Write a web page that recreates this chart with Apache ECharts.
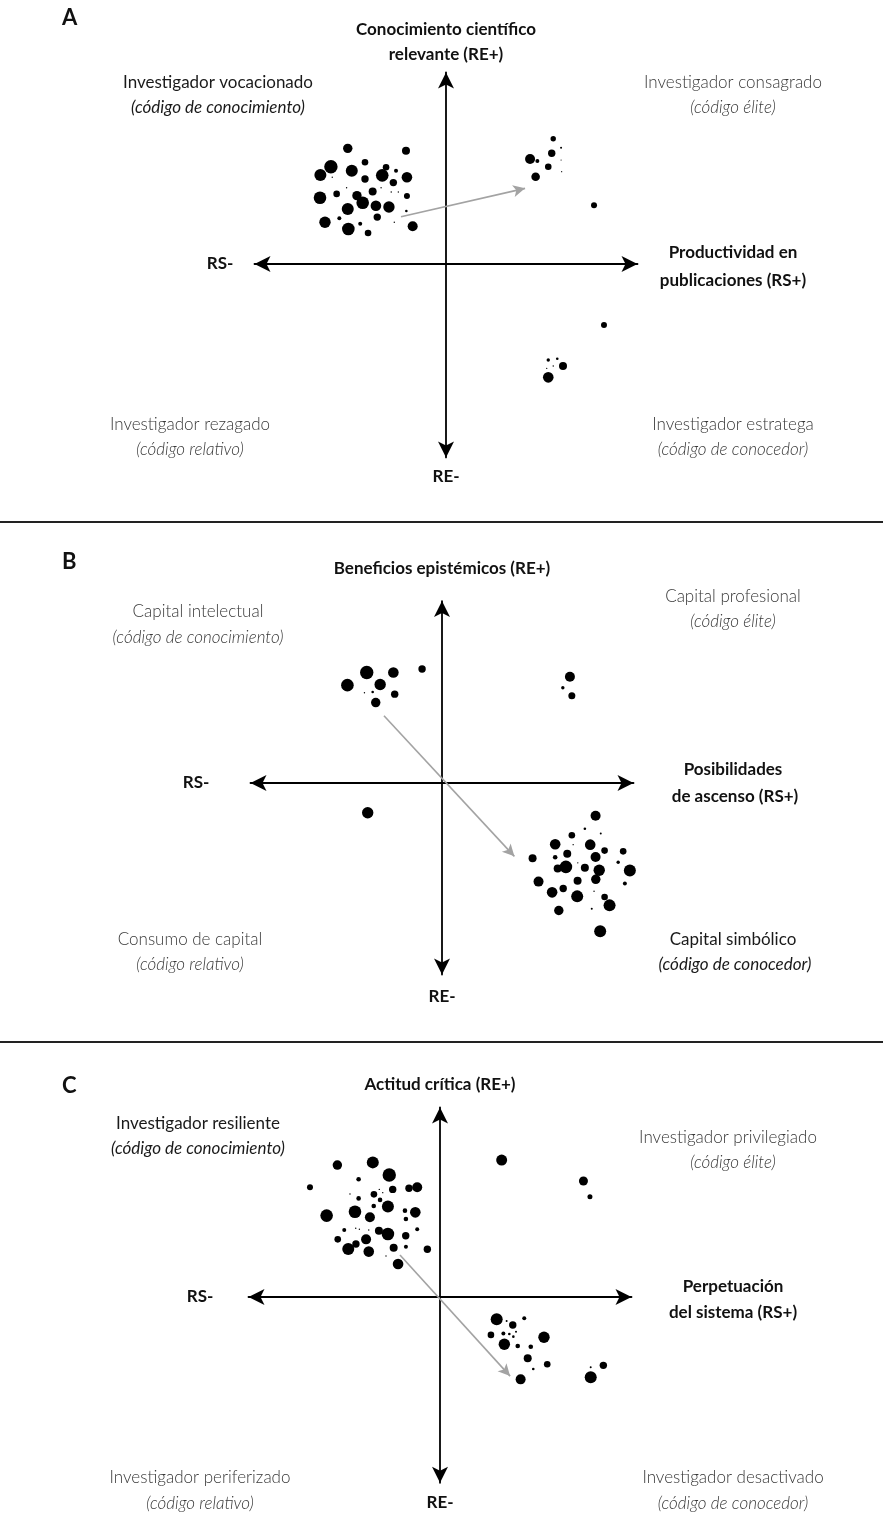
<!DOCTYPE html>
<html><head><meta charset="utf-8">
<script src="https://cdn.jsdelivr.net/npm/echarts@6/dist/echarts.min.js"></script>
<style>html,body{margin:0;padding:0;background:#fff}#c{width:883px;height:1520px}</style>
</head><body><div id="c"></div>
<script>
// ---- DATA: each point = [RS position, RE position, dot diameter] ----
var dotsA = [
 [-51.3,60.4,9.4],[-20.9,59.2,8],[-60.1,50.8,13.4],[-65.6,46.5,12],[-49.2,48.7,12],[-42.3,53.1,6.6],
 [-42.3,44.4,7.4],[-31.3,50.5,6.6],[-33.3,46.3,12.6],[-26.1,48.7,4],[-27.5,42.5,7.4],[-20.4,45.3,10.6],
 [-65.8,34.6,12.6],[-57.1,36.6,6.6],[-46.5,35.7,9.4],[-43.5,32.0,12.6],[-38.3,37.8,8],[-36.6,30.4,10.6],
 [-29.8,29.8,11.4],[-20.4,35.5,6],[-51.3,28.7,12],[-35.9,24.5,7.4],[-63.2,21.8,11.4],[-55.7,23.9,4],
 [-51.0,18.3,12.6],[-44.8,21.0,4],[-40.7,16.2,6.6],[-17.4,19.7,10],[-20.7,27.7,2.6],
 [-59.4,45.3,1.4],[-51.9,39.8,1.4],[-33.9,39.8,1.4],[-28.6,37.6,1.4],[-24.9,37.6,1.4],[-27.0,21.8,1.4],
 [56.0,65.4,5.4],[60.1,60.7,2],[55.2,57.8,7.4],[43.9,54.8,10],[47.7,53.8,4],[53.4,50.8,6.6],[46.8,45.6,8.6],
 [60.1,54.3,1.2],[60.4,48.2,1.2],[77.3,30.7,6],
 [82.5,-31.9,6],[53.4,-50.1,3.4],[58.1,-49.5,2.6],[61.1,-53.3,8],[53.4,-59.2,10.6],[56.0,-53.3,1.4],[52.6,-54.5,1.4]
];
var arrowA = [[-23.5,24.7],[41.3,39.5]];

var dotsB = [
 [-39.3,57.7,13.4],[-49.4,51.1,12.6],[-25.4,57.7,10.6],[-32.3,51.4,11.4],[-10.4,59.5,7.4],[-24.7,46.4,7.4],
 [-34.6,42.0,9.4],[-36.2,47.5,2.6],[-40.5,47.1,1.4],
 [66.8,55.5,10],[63.1,49.7,3.4],[67.8,45.5,7],
 [-38.8,-15.5,11.4],
 [80.2,-17.1,10],[74.6,-23.9,2.6],[82.9,-26.4,2],[67.8,-27.3,6.6],[59.1,-32.0,10.6],[77.4,-32.2,10.6],
 [68.5,-32.2,1.4],[65.4,-36.9,8],[84.9,-35.3,6.6],[94.6,-35.7,6.6],[47.3,-39.3,8],[59.1,-38.8,4.6],
 [80.2,-38.6,10],[92.0,-41.4,3.4],[64.7,-43.8,12.6],[60.4,-44.7,8],[74.6,-44.2,8],[82.1,-45.6,11.4],
 [98.1,-45.7,12],[70.9,-41.7,1.4],[50.4,-51.5,10],[70.8,-51.0,8],[80.3,-50.3,9.4],[95.5,-52.5,4],
 [57.5,-57.1,10.6],[63.3,-55.1,7.4],[70.6,-59.2,12],[79.4,-56.5,1.4],[84.9,-59.5,6.6],[87.5,-63.9,12],
 [100.7,-57.9,11.4],[61.0,-66.6,9.4],[78.2,-65.7,2],[82.6,-77.4,12]
];
var arrowB = [[-30.3,35.1],[37.8,-38.3]];

var dotsC = [
 [-53.6,68.9,9.4],[-35.1,70.3,12],[-26.5,63.7,13.4],[-67.9,57.3,6],[-42.5,61.5,4.6],[-34.5,53.6,6.6],
 [-31.3,50.7,4.6],[-24.7,56.2,7.4],[-16.2,56.8,7.4],[-11.9,57.3,10],[-42.5,51.5,4.6],[-34.6,47.5,4.6],
 [-27.2,47.2,12],[-59.2,42.5,12.6],[-44.4,44.5,12.6],[-36.6,41.6,10],[-18.3,45.1,4.6],[-12.9,44.2,10.6],
 [-17.8,40.7,4.6],[-50.0,35.0,4],[-31.9,34.6,8],[-27.2,32.9,12.6],[-17.9,32.0,7.4],[-11.9,35.4,4],
 [-53.4,30.1,6.6],[-43.9,27.7,7.4],[-38.6,30.1,10],[-47.9,25.1,12],[-37.2,23.7,10.6],[-24.2,25.7,8],
 [-17.8,26.3,4],[-6.6,24.9,7.4],[-21.9,17.2,10.6],
 [-47.0,53.8,1.4],[-31.7,56.2,1.4],[-29.9,54.5,1.4],[-44.0,35.9,1.4],[-42.1,35.4,1.4],[-37.2,35.0,1.4],[-28.2,21.4,1.4],
 [32.2,71.5,11],[74.9,60.6,9],[78.3,52.4,5],
 [29.6,-11.6,12],[38.0,-14.6,7.4],[44.0,-11.1,4],[34.8,-12.5,2],[26.6,-19.8,6.6],[33.1,-19.0,4],
 [36.2,-19.3,2.6],[38.3,-20.7,2.6],[39.7,-18.1,2],[33.6,-24.7,11.4],[40.6,-25.6,4.6],[47.4,-26.0,4.6],
 [54.3,-21.0,11.4],[45.8,-32.0,8],[48.7,-37.6,2.6],[56.0,-35.1,6.6],[42.1,-43.0,10],[78.7,-41.9,12],
 [78.7,-36.7,2],[85.3,-35.7,7.4]
];
var arrowC = [[-20.9,21.9],[36.6,-41.3]];

// axis ranges [xmin, xmax, ymin, ymax]
var rangeA = [-100,100,-101,100];
var rangeB = [-100,100,-100,95];
var rangeC = [-100,100,-97,99];

// ---- LAYOUT ----
var PX = 1.915; // px per unit
function gridFor(cx, cy, r){
  return {left: cx + r[0]*PX, top: cy - r[3]*PX, width:(r[1]-r[0])*PX, height:(r[3]-r[2])*PX};
}
var panels = [
  {dots:dotsA, arrow:arrowA, r:rangeA, cx:446, cy:264},
  {dots:dotsB, arrow:arrowB, r:rangeB, cx:442, cy:783},
  {dots:dotsC, arrow:arrowC, r:rangeC, cx:440, cy:1297}
];
var grids=[], xAxes=[], yAxes=[], series=[];
panels.forEach(function(p,i){
  grids.push(gridFor(p.cx,p.cy,p.r));
  var axLine = {show:true,onZero:true,symbol:['arrow','arrow'],symbolSize:[12,16],lineStyle:{color:'#000',width:1.8}};
  xAxes.push({gridIndex:i,type:'value',min:p.r[0],max:p.r[1],axisLine:axLine,axisTick:{show:false},axisLabel:{show:false},splitLine:{show:false}});
  yAxes.push({gridIndex:i,type:'value',min:p.r[2],max:p.r[3],axisLine:axLine,axisTick:{show:false},axisLabel:{show:false},splitLine:{show:false}});
  series.push({
    type:'scatter',xAxisIndex:i,yAxisIndex:i,data:p.dots,
    symbolSize:function(v){return v[2];},
    itemStyle:{color:'#000',opacity:1},silent:true,animation:false,
    markLine:{silent:true,animation:false,symbol:['none','arrow'],symbolSize:[9,12],
      label:{show:false},
      lineStyle:{color:'#a3a3a3',width:1.6,type:'solid'},
      data:[[{coord:p.arrow[0]},{coord:p.arrow[1]}]]}
  });
});

var F = 'Lato, "Open Sans", sans-serif';
var S = {
  bold:  {font:'bold 17px '+F, fill:'#111'},
  head:  {font:'bold 22px '+F, fill:'#111'},
  dark:  {font:'17px '+F, fill:'#1a1a1a'},
  darkI: {font:'italic 17px '+F, fill:'#1a1a1a'},
  light: {font:'300 17px '+F, fill:'#383838'},
  lightI:{font:'italic 300 17px '+F, fill:'#383838'}
};
var texts = [
 ['A',62,18,'head','left'],
 ['Conocimiento científico',446,30,'bold'],['relevante (RE+)',446,55,'bold'],
 ['Investigador vocacionado',218,83,'dark'],['(código de conocimiento)',218,108,'darkI'],
 ['Investigador consagrado',733,83,'light'],['(código élite)',733,108,'lightI'],
 ['RS-',220,264,'bold'],
 ['Productividad en',733,253,'bold'],['publicaciones (RS+)',733,281,'bold'],
 ['Investigador rezagado',190,425,'light'],['(código relativo)',190,450,'lightI'],
 ['RE-',446,477,'bold'],
 ['Investigador estratega',733,425,'light'],['(código de conocedor)',733,450,'lightI'],

 ['B',62,562,'head','left'],
 ['Beneficios epistémicos (RE+)',442,569,'bold'],
 ['Capital intelectual',198,612,'light'],['(código de conocimiento)',198,638,'lightI'],
 ['Capital profesional',733,597,'light'],['(código élite)',733,622,'lightI'],
 ['RS-',196,783,'bold'],
 ['Posibilidades',733,770,'bold'],['de ascenso (RS+)',735,797,'bold'],
 ['Consumo de capital',190,940,'light'],['(código relativo)',190,965,'lightI'],
 ['RE-',442,997,'bold'],
 ['Capital simbólico',733,940,'dark'],['(código de conocedor)',735,965,'darkI'],

 ['C',62,1086,'head','left'],
 ['Actitud crítica (RE+)',440,1085,'bold'],
 ['Investigador resiliente',198,1124,'dark'],['(código de conocimiento)',198,1149,'darkI'],
 ['Investigador privilegiado',728,1138,'light'],['(código élite)',733,1163,'lightI'],
 ['RS-',200,1297,'bold'],
 ['Perpetuación',733,1287,'bold'],['del sistema (RS+)',733,1313,'bold'],
 ['Investigador periferizado',200,1478,'light'],['(código relativo)',200,1504,'lightI'],
 ['RE-',440,1503,'bold'],
 ['Investigador desactivado',733,1478,'light'],['(código de conocedor)',733,1504,'lightI']
];
var graphics = texts.map(function(t){
  var st = S[t[3]];
  var al = t[4]||'center';
  return {type:'text',silent:true,style:{text:t[0],x:t[1],y:t[2],font:st.font,fill:st.fill,
    textAlign:al,align:al,textVerticalAlign:'middle',verticalAlign:'middle'}};
});
[522,1042].forEach(function(y){
  graphics.push({type:'line',silent:true,shape:{x1:0,y1:y,x2:883,y2:y},style:{stroke:'#222',lineWidth:2}});
});

var chart = echarts.init(document.getElementById('c'),null,{renderer:'canvas'});
chart.setOption({
  animation:false,backgroundColor:'#fff',
  grid:grids,xAxis:xAxes,yAxis:yAxes,series:series,graphic:graphics
});
</script></body></html>
